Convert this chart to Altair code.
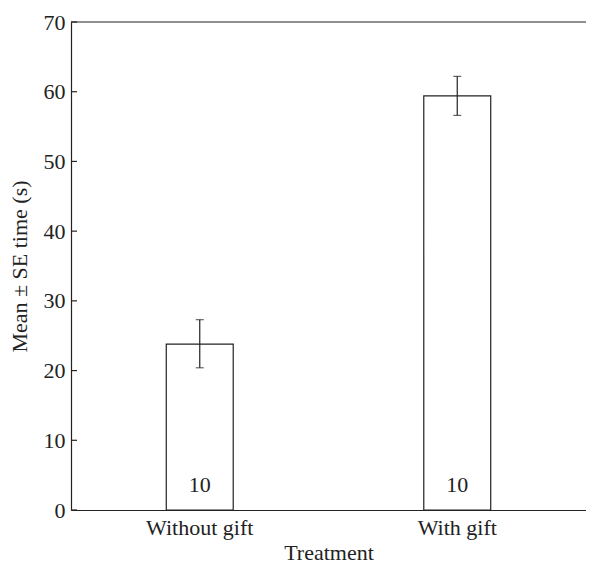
import altair as alt
import pandas as pd

treatments = ["Without gift", "With gift"]
means = [23.8, 59.4]
se_low = [20.4, 56.6]
se_high = [27.3, 62.2]
n_labels = ["10", "10"]
y_ticks = [0, 10, 20, 30, 40, 50, 60, 70]

df = pd.DataFrame({
    "treatment": treatments,
    "mean": means,
    "lo": se_low,
    "hi": se_high,
    "n": n_labels,
    "ny": [3.6, 3.6],
})

FONT = "Liberation Serif"
INK = "#222222"
FS = 22

x = alt.X("treatment:N", sort=treatments, title="Treatment",
          scale=alt.Scale(paddingInner=0.74, paddingOuter=0.37),
          axis=alt.Axis(labelAngle=0, ticks=False, labelPadding=7, titlePadding=4))
y = alt.Y("mean:Q", title="Mean ± SE time (s)",
          scale=alt.Scale(domain=[0, 70], nice=False),
          axis=alt.Axis(values=y_ticks, ticks=False,
                        labelPadding=6, titlePadding=12, grid=False))

base = alt.Chart(df)

bars = base.mark_bar(fill="white", stroke=INK, strokeWidth=1.2).encode(x=x, y=y)
rule = base.mark_rule(color=INK, strokeWidth=1.2).encode(
    x=alt.X("treatment:N", sort=treatments), y="lo:Q", y2="hi:Q")
cap_hi = base.mark_tick(color=INK, orient="horizontal", size=8, thickness=1.2).encode(
    x=alt.X("treatment:N", sort=treatments), y="hi:Q")
cap_lo = base.mark_tick(color=INK, orient="horizontal", size=8, thickness=1.2).encode(
    x=alt.X("treatment:N", sort=treatments), y="lo:Q")
labels = base.mark_text(font=FONT, fontSize=FS, color=INK, baseline="middle").encode(
    x=alt.X("treatment:N", sort=treatments), y="ny:Q", text="n:N")
top = alt.Chart(pd.DataFrame({"v": [70]})).mark_rule(color=INK, strokeWidth=1.2).encode(
    y="v:Q")
ticks = alt.Chart(pd.DataFrame({"t": y_ticks})).mark_rule(color=INK, strokeWidth=1.2).encode(
    y="t:Q", x=alt.value(0), x2=alt.value(6))

chart = alt.layer(bars, rule, cap_hi, cap_lo, labels, top, ticks).properties(
    width=515, height=488,
    autosize=alt.AutoSizeParams(type="none"),
    padding={"left": 63, "top": 14, "right": 0, "bottom": 54},
    background="white",
).configure_view(stroke=None).configure_axis(
    labelFont=FONT, titleFont=FONT, labelFontSize=FS, titleFontSize=FS,
    labelColor=INK, titleColor=INK, titleFontWeight="normal",
    domainColor=INK, tickColor=INK, domainWidth=1.2, tickWidth=1.2,
)

chart.save("out.html", embed_options={"renderer": "svg", "actions": False})
